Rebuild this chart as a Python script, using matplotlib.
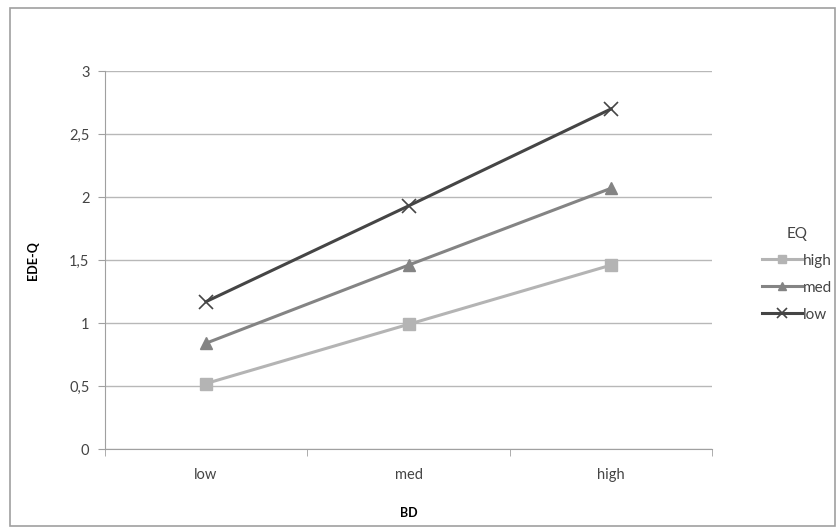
import matplotlib.pyplot as plt
import matplotlib.ticker as mticker
from matplotlib.patches import Rectangle

categories = ["low", "med", "high"]
series_names = ["high", "med", "low"]
eq_high = [0.52, 0.99, 1.46]
eq_med = [0.84, 1.46, 2.07]
eq_low = [1.17, 1.93, 2.70]
y_ticks = [0, 0.5, 1, 1.5, 2, 2.5, 3]

plt.rcParams['font.family'] = ['Lato', 'DejaVu Sans']

fig = plt.figure(figsize=(8.38, 5.27), dpi=100)
# outer chart border like excel
fig.patches.append(Rectangle((10 / 838, 0.002), 1 - 13 / 838, 1 - 9 / 527, transform=fig.transFigure,
                             fill=False, edgecolor="#a0a0a0", linewidth=1.2))

ax = fig.add_axes([0.125, 0.148, 0.725, 0.717])
x = list(range(len(categories)))

styles = [
    (eq_high, "#b4b4b4", "s", 9, 2.2),
    (eq_med, "#848484", "^", 9, 2.2),
    (eq_low, "#454545", "x", 10, 2.2),
]
for (vals, color, marker, ms, lw), name in zip(styles, series_names):
    ax.plot(x, vals, color=color, marker=marker, markersize=ms, linewidth=lw,
            markeredgewidth=1.2 if marker == "x" else 1, label=name)

ax.set_xlim(-0.5, 2.5)
ax.set_ylim(0, 3)
ax.set_yticks(y_ticks)
ax.yaxis.set_major_formatter(mticker.FuncFormatter(lambda v, p: f"{v:g}".replace(".", ",")))
ax.set_xticks(x)
ax.set_xticklabels(categories)
ax.set_xticks([-0.5, 0.5, 1.5, 2.5], minor=True)
ax.tick_params(axis="x", which="major", length=0, pad=14)
ax.tick_params(axis="x", which="minor", length=5, color="#a0a0a0")
ax.tick_params(axis="y", length=5, color="#a0a0a0", pad=6)
ax.tick_params(labelsize=10.5, labelcolor="#444444")

ax.grid(axis="y", color="#b8b8b8", linewidth=1)
ax.set_axisbelow(True)
for s in ["top", "right"]:
    ax.spines[s].set_visible(False)
for s in ["left", "bottom"]:
    ax.spines[s].set_color("#a0a0a0")

ax.set_xlabel("BD", fontsize=9, fontweight="bold", labelpad=18)
ax.set_ylabel("EDE-Q", fontsize=9, fontweight="bold", labelpad=22)

leg = fig.legend(loc="center left", bbox_to_anchor=(0.893, 0.48), frameon=False, title="EQ",
                 fontsize=11, title_fontsize=11, handlelength=2.6, handletextpad=0.1,
                 labelspacing=0.85, markerscale=0.7)
for t in leg.get_texts():
    t.set_color("#444444")
leg.get_title().set_color("#444444")

fig.savefig("out.png", dpi=100)
